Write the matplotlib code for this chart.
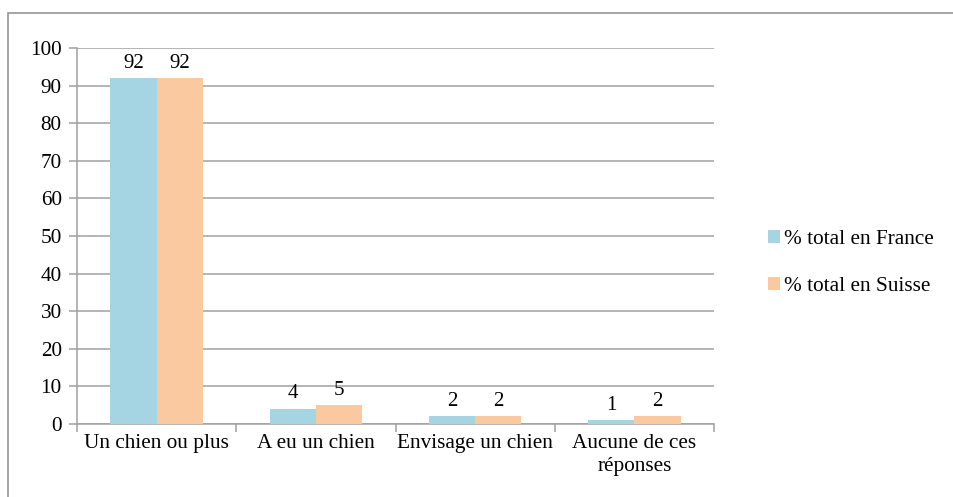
import numpy as np
import matplotlib.pyplot as plt
from matplotlib.patches import Rectangle

plt.rcParams['font.family'] = ['Liberation Serif', 'DejaVu Serif']

categories = ['Un chien ou plus', 'A eu un chien', 'Envisage un chien', 'Aucune de ces\nréponses']
france = [92, 4, 2, 1]
suisse = [92, 5, 2, 2]
series_names = ['% total en France', '% total en Suisse']

blue = '#A5D5E3'
peach = '#FAC9A0'
grey = '#A0A0A0'

W, H = 954, 497
fig = plt.figure(figsize=(W / 100, H / 100), dpi=100)
ax = fig.add_axes([77 / W, 1 - 424 / H, (714 - 77) / W, (424 - 48) / H])

# outer chart border
fig.patches.append(Rectangle((8 / W, -0.05), 1.0, 1 - 13 / H + 0.05,
                             transform=fig.transFigure, fill=False,
                             edgecolor='#969696', linewidth=1.2))

x = np.arange(len(categories))
w = 0.29
b1 = ax.bar(x - w / 2, france, w, color=blue, label=series_names[0], zorder=3)
b2 = ax.bar(x + w / 2, suisse, w, color=peach, label=series_names[1], zorder=3)

for bars, vals in [(b1, france), (b2, suisse)]:
    for r, v in zip(bars, vals):
        ax.annotate(str(v), (r.get_x() + r.get_width() / 2, v),
                    xytext=(0, 4), textcoords='offset points',
                    ha='center', va='bottom', fontsize=15)

ax.set_xlim(-0.5, len(categories) - 0.5)
ax.set_ylim(0, 100)
ax.set_yticks(range(0, 101, 10))
ax.yaxis.grid(True, color=grey, linewidth=1.1, zorder=0)
ax.set_axisbelow(True)

ax.set_xticks(x)
ax.set_xticklabels(categories, fontsize=15.3, linespacing=1.3)
ax.set_xticks(np.arange(-0.5, len(categories)), minor=True)
ax.tick_params(axis='x', which='major', length=0, pad=7)
ax.tick_params(axis='x', which='minor', length=6, width=1.1, color=grey)
ax.tick_params(axis='y', length=6, width=1.1, color=grey, pad=5, labelsize=15.3)

for s in ['top', 'right']:
    ax.spines[s].set_visible(False)
for s in ['left', 'bottom']:
    ax.spines[s].set_color(grey)
    ax.spines[s].set_linewidth(1.1)

fig.legend(handles=[b1, b2], labels=series_names, loc='center left',
           bbox_to_anchor=(749 / W, 1 - 263 / H), frameon=False,
           fontsize=15.3, handlelength=0.55, handleheight=0.55,
           handletextpad=0.2, labelspacing=1.3)

fig.savefig('out.png', dpi=100)
